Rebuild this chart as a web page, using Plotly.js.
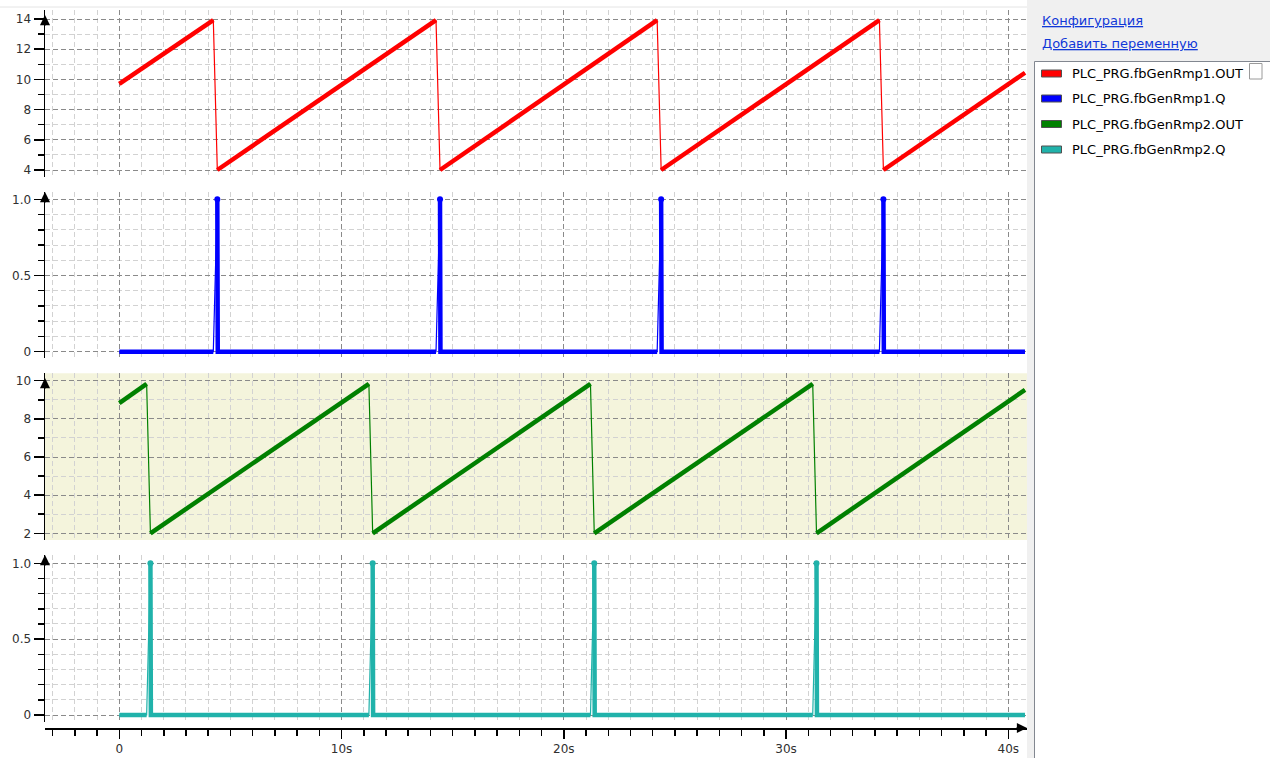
<!DOCTYPE html>
<html><head><meta charset="utf-8">
<script src="https://cdn.plot.ly/plotly-3.0.1.min.js"></script>
<style>html,body{margin:0;padding:0;background:#fff;overflow:hidden}</style>
</head><body><div id="chart" style="width:1270px;height:758px"></div>
<script>
// ---- data (seconds / values) ----
const seriesNames = ['PLC_PRG.fbGenRmp1.OUT', 'PLC_PRG.fbGenRmp1.Q', 'PLC_PRG.fbGenRmp2.OUT', 'PLC_PRG.fbGenRmp2.Q'];
const seriesColors = ['#ff0000', '#0000ff', '#008000', '#20b2aa'];
const linkLabels = ['Конфигурация', 'Добавить переменную'];

const rmp1Time = [0, 4.23, 4.41, 14.25, 14.43, 24.2, 24.38, 34.2, 34.38, 40.75];
const rmp1Out  = [9.70, 13.93, 4.0, 13.93, 4.0, 13.93, 4.0, 13.93, 4.0, 10.44];

const q1Time = [0, 4.23, 4.41, 4.43, 14.25, 14.43, 14.45, 24.2, 24.38, 24.4, 34.2, 34.38, 34.4, 40.75];
const q1Val  = [0, 0, 1, 0, 0, 1, 0, 0, 1, 0, 0, 1, 0, 0];

const rmp2Time = [0, 1.23, 1.40, 11.23, 11.40, 21.2, 21.37, 31.2, 31.37, 40.75];
const rmp2Out  = [8.82, 9.83, 2.0, 9.83, 2.0, 9.83, 2.0, 9.83, 2.0, 9.52];

const q2Time = [0, 1.23, 1.40, 1.42, 11.23, 11.40, 11.42, 21.2, 21.37, 21.39, 31.2, 31.37, 31.39, 40.75];
const q2Val  = [0, 0, 1, 0, 0, 1, 0, 0, 1, 0, 0, 1, 0, 0];

const xTickVals = [0, 10, 20, 30, 40];
const xTickText = ['0', '10s', '20s', '30s', '40s'];
const qTickVals = [0, 0.5, 1];
const qTickText = ['0', '0.5', '1.0'];

// ---- geometry helpers ----
const W = 1270, H = 758, ML = 45, MR = 243, MT = 10, MB = 30;
const PW = W - ML - MR, PH = H - MT - MB;
const xp = px => (px - ML) / PW;
const yp = py => 1 - (py - MT) / PH;

function seriesTraces(t, v, color, yaxis, thickW, isPulse) {
  const out = [];
  out.push({x: t, y: v, type: 'scatter', mode: 'lines', xaxis: 'x', yaxis: yaxis,
            line: {color: color, width: 1.2}, hoverinfo: 'skip', cliponaxis: false});
  const tx = [], ty = [];
  for (let i = 0; i < t.length - 1; i++) {
    const jump = isPulse ? v[i + 1] > v[i] : v[i + 1] < v[i];
    if (jump) { tx.push(null); ty.push(null); continue; }
    if (tx.length === 0 || tx[tx.length - 1] === null) { tx.push(t[i]); ty.push(v[i]); }
    tx.push(t[i + 1]); ty.push(v[i + 1]);
  }
  out.push({x: tx, y: ty, type: 'scatter', mode: 'lines', xaxis: 'x', yaxis: yaxis,
            line: {color: color, width: thickW}, hoverinfo: 'skip', connectgaps: false, cliponaxis: false});
  if (isPulse) {
    const mx = [], my = [];
    t.forEach((tt, i) => { if (v[i] === 1) { mx.push(tt); my.push(v[i]); } });
    out.push({x: mx, y: my, type: 'scatter', mode: 'markers', xaxis: 'x', yaxis: yaxis,
              marker: {color: color, size: 6, symbol: 'circle'}, hoverinfo: 'skip', cliponaxis: false});
  }
  return out;
}

const traces = [].concat(
  seriesTraces(rmp1Time, rmp1Out, seriesColors[0], 'y', 4.5, false),
  seriesTraces(q1Time, q1Val, seriesColors[1], 'y2', 4.5, true),
  seriesTraces(rmp2Time, rmp2Out, seriesColors[2], 'y3', 4.5, false),
  seriesTraces(q2Time, q2Val, seriesColors[3], 'y4', 4.5, true)
);

const tickFont = {family: 'DejaVu Sans', size: 12, color: '#303030'};
const darkGrid = '#8a8a8a', lightGrid = '#d2d2d2', dash = '5px,3px';

function yAxis(domainPx, range, major, minorDtick) {
  const ax = {
    domain: [yp(domainPx[1]), yp(domainPx[0])], range: range, anchor: 'x',
    showline: true, linecolor: '#000', linewidth: 1.5,
    ticks: 'outside', ticklen: 10, tickwidth: 1.5, tickcolor: '#000',
    showgrid: true, gridcolor: darkGrid, griddash: dash, gridwidth: 1,
    zeroline: false, tickfont: tickFont, fixedrange: true,
    minor: {tickmode: 'linear', tick0: 0, dtick: minorDtick, ticks: 'outside', ticklen: 6,
            tickwidth: 1.5, tickcolor: '#000', showgrid: true, gridcolor: lightGrid, griddash: dash, gridwidth: 1}
  };
  if (major.vals) { ax.tickmode = 'array'; ax.tickvals = major.vals; ax.ticktext = major.text; }
  else { ax.tickmode = 'linear'; ax.tick0 = 0; ax.dtick = major.dtick; }
  return ax;
}

const shapes = [
  // beige background of the third panel
  {type: 'rect', xref: 'x domain', yref: 'y3 domain', x0: 0, x1: 1, y0: 0, y1: 1,
   fillcolor: '#f4f4dc', line: {width: 0}, layer: 'below'},
  // faint top line
  {type: 'line', xref: 'paper', yref: 'paper', x0: xp(0), x1: 1, y0: yp(7), y1: yp(7),
   line: {color: '#e4e4e4', width: 1}},
  // right side panel
  {type: 'rect', xref: 'paper', yref: 'paper', x0: xp(1027), x1: xp(1275), y0: yp(765), y1: yp(-5),
   fillcolor: '#f0f0f0', line: {width: 0}},
  // legend list box
  {type: 'rect', xref: 'paper', yref: 'paper', x0: xp(1034.5), x1: xp(1290), y0: yp(780), y1: yp(61.5),
   fillcolor: '#ffffff', line: {color: '#828790', width: 1}},
  {type: 'rect', xref: 'paper', yref: 'paper', x0: xp(1249.5), x1: xp(1262), y0: yp(79), y1: yp(63.5),
   fillcolor: '#ffffff', line: {color: '#9a9a9a', width: 1}}
];

const annotations = [];
// axis arrows
[[15, 'y1'], [192, 'y2'], [378, 'y3'], [555, 'y4']].forEach(([py]) => {
  annotations.push({xref: 'paper', yref: 'paper', x: 0, y: yp(py), ax: 0, ay: 12, text: '',
    showarrow: true, arrowhead: 2, arrowsize: 1.35, arrowwidth: 1.5, arrowcolor: '#000', standoff: 0});
});
annotations.push({xref: 'paper', yref: 'paper', x: xp(1027), y: yp(728), ax: -12, ay: 0, text: '',
  showarrow: true, arrowhead: 2, arrowsize: 1.35, arrowwidth: 1.5, arrowcolor: '#000', standoff: 0});

// links
const linkY = [21, 44];
linkLabels.forEach((lbl, i) => {
  annotations.push({xref: 'paper', yref: 'paper', x: xp(1040), y: yp(linkY[i]), xanchor: 'left', yanchor: 'middle',
    text: '<u>' + lbl + '</u>', showarrow: false, font: {family: 'DejaVu Sans', size: 13, color: '#1038d8'}});
});
// legend rows
const rowY = [73.5, 98.5, 124, 149.5];
seriesNames.forEach((name, i) => {
  shapes.push({type: 'rect', xref: 'paper', yref: 'paper', x0: xp(1041.5), x1: xp(1061.5),
    y0: yp(rowY[i] + 3.5), y1: yp(rowY[i] - 3.5), fillcolor: seriesColors[i], line: {color: '#505050', width: 1}});
  annotations.push({xref: 'paper', yref: 'paper', x: xp(1070), y: yp(rowY[i]), xanchor: 'left', yanchor: 'middle',
    text: name, showarrow: false, font: {family: 'DejaVu Sans', size: 13, color: '#000'}});
});

const layout = {
  width: W, height: H,
  margin: {l: ML, r: MR, t: MT, b: MB, pad: 0},
  paper_bgcolor: '#ffffff', plot_bgcolor: '#ffffff',
  showlegend: false, hovermode: false,
  font: {family: 'DejaVu Sans', size: 12, color: '#303030'},
  xaxis: {
    range: [(ML - 119.3) / 22.225, (1027 - 119.3) / 22.225], anchor: 'free', position: 0,
    showline: true, linecolor: '#000', linewidth: 1.5,
    tickmode: 'array', tickvals: xTickVals, ticktext: xTickText,
    ticks: 'outside', ticklen: 9, tickwidth: 1.5, tickcolor: '#000',
    showgrid: true, gridcolor: darkGrid, griddash: dash, gridwidth: 1,
    zeroline: false, tickfont: tickFont, fixedrange: true,
    minor: {tickmode: 'linear', tick0: 0, dtick: 1, ticks: 'outside', ticklen: 6, tickwidth: 1.5,
            tickcolor: '#000', showgrid: true, gridcolor: lightGrid, griddash: dash, gridwidth: 1}
  },
  yaxis:  yAxis([10, 177],    [4 - 7 / 15.1, 14 + 9 / 15.1], {dtick: 2}, 1),
  yaxis2: yAxis([192, 358],   [-6.3 / 152.4, 1 + 7.3 / 152.4], {vals: qTickVals, text: qTickText}, 0.1),
  yaxis3: yAxis([373.3, 540], [2 - 6.7 / 19.075, 10 + 7.4 / 19.075], {dtick: 2}, 1),
  yaxis4: yAxis([555, 722],   [-7 / 151.7, 1 + 8.3 / 151.7], {vals: qTickVals, text: qTickText}, 0.1),
  shapes: shapes,
  annotations: annotations
};

Plotly.newPlot('chart', traces, layout, {staticPlot: true, displayModeBar: false});
</script>
</body></html>
